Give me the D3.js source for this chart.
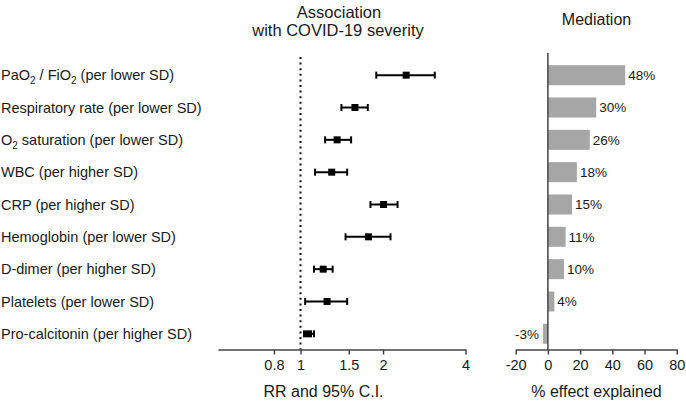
<!DOCTYPE html>
<html>
<head>
<meta charset="utf-8">
<script src="https://cdn.jsdelivr.net/npm/d3@7"></script>
<style>
  body { margin: 0; background: #fff; }
  text { font-family: "Liberation Sans", Arial, sans-serif; fill: #1a1a1a; }
</style>
</head>
<body>
<svg id="chartSVG" width="686" height="407"></svg>
<script>
// row labels, top to bottom (sub = subscript pieces)
const rowLabels = [
  [["PaO", ""], ["2", "sub"], [" / FiO", ""], ["2", "sub"], [" (per lower SD)", ""]],
  [["Respiratory rate (per lower SD)", ""]],
  [["O", ""], ["2", "sub"], [" saturation (per lower SD)", ""]],
  [["WBC (per higher SD)", ""]],
  [["CRP (per higher SD)", ""]],
  [["Hemoglobin (per lower SD)", ""]],
  [["D-dimer (per higher SD)", ""]],
  [["Platelets (per lower SD)", ""]],
  [["Pro-calcitonin (per higher SD)", ""]]
];
const rowKeys = d3.range(rowLabels.length);

// relative risk and 95% CI
const rr      = [2.43, 1.58, 1.36, 1.30, 2.01, 1.77, 1.21, 1.25, 1.07];
const rrLower = [1.89, 1.41, 1.23, 1.13, 1.80, 1.46, 1.12, 1.04, 1.03];
const rrUpper = [3.09, 1.76, 1.53, 1.48, 2.26, 2.13, 1.31, 1.48, 1.12];
const rrTicks = [0.8, 1, 1.5, 2, 4];

// mediation, % effect explained
const mediation = [48, 30, 26, 18, 15, 11, 10, 4, -3];
const mediationTicks = [-20, 0, 20, 40, 60, 80];

const svg = d3.select("#chartSVG");

// scales
const yRow = d3.scaleBand().domain(rowKeys).range([59, 350]);
const yBar = d3.scaleBand().domain(rowKeys).range([59, 350])
  .paddingInner(0.38).paddingOuter(0.19);
const xRR = d3.scaleLog().domain([0.5, 4]).range([218, 465.5]);
const xMed = d3.scaleLinear().domain([-20, 80]).range([515.7, 676.7]);
const axisY = 349.5;
const mid = i => yRow(i) + yRow.bandwidth() / 2;

// row labels, subscripts drop 4px and the next piece comes back up
const lab = svg.append("g").selectAll("text").data(rowLabels).join("text")
  .attr("x", 1).attr("y", (d, i) => mid(i)).attr("dy", "0.35em")
  .attr("font-size", 14.5);
lab.each(function (parts) {
  const t = d3.select(this);
  let prevSub = false;
  parts.forEach(p => {
    const s = t.append("tspan").text(p[0]);
    if (p[1] === "sub") s.attr("font-size", 10).attr("dy", 4);
    else if (prevSub) s.attr("dy", -4);
    prevSub = p[1] === "sub";
  });
});

// ---- forest plot ----
const forest = svg.append("g");
forest.append("line")
  .attr("x1", xRR(1)).attr("x2", xRR(1))
  .attr("y1", 57).attr("y2", axisY)
  .attr("stroke", "#111").attr("stroke-width", 2)
  .attr("stroke-dasharray", "2,3.6");

const rows = forest.selectAll("g.row").data(rowKeys).join("g").attr("class", "row");
rows.append("line")
  .attr("x1", i => xRR(rrLower[i])).attr("x2", i => xRR(rrUpper[i]))
  .attr("y1", mid).attr("y2", mid)
  .attr("stroke", "#000").attr("stroke-width", 2);
[rrLower, rrUpper].forEach(arr => {
  rows.append("line")
    .attr("x1", i => xRR(arr[i])).attr("x2", i => xRR(arr[i]))
    .attr("y1", i => mid(i) - 3.5).attr("y2", i => mid(i) + 3.5)
    .attr("stroke", "#000").attr("stroke-width", 2);
});
rows.append("rect")
  .attr("x", i => xRR(rr[i]) - 3.5).attr("y", i => mid(i) - 3.5)
  .attr("width", 7).attr("height", 7).attr("fill", "#000");

const rrAxis = forest.append("g")
  .attr("transform", `translate(0,${axisY})`)
  .call(d3.axisBottom(xRR).tickValues(rrTicks).tickFormat(d => String(d))
    .tickSize(5).tickSizeOuter(0).tickPadding(5));
rrAxis.select(".domain").attr("stroke", "#444").attr("stroke-width", 1.5);
rrAxis.selectAll(".tick line").attr("stroke", "#444").attr("stroke-width", 1.5);
rrAxis.selectAll(".tick text").attr("font-size", 14.5).attr("font-family", "Liberation Sans").attr("fill", "#1a1a1a");

forest.append("text").attr("x", 339).attr("y", 18).attr("text-anchor", "middle")
  .attr("font-size", 16.5).text("Association");
forest.append("text").attr("x", 338).attr("y", 36).attr("text-anchor", "middle")
  .attr("font-size", 16.5).text("with COVID-19 severity");
forest.append("text").attr("x", 323.5).attr("y", 397).attr("text-anchor", "middle")
  .attr("font-size", 16).text("RR and 95% C.I.");

// ---- mediation bars ----
const med = svg.append("g");
med.selectAll("rect").data(rowKeys).join("rect")
  .attr("x", i => xMed(Math.min(0, mediation[i])))
  .attr("width", i => Math.abs(xMed(mediation[i]) - xMed(0)))
  .attr("y", i => yBar(i)).attr("height", yBar.bandwidth())
  .attr("fill", "#a6a6a6");
med.selectAll("text.val").data(rowKeys).join("text").attr("class", "val")
  .attr("x", i => mediation[i] >= 0 ? xMed(mediation[i]) + 3 : xMed(mediation[i]) - 4)
  .attr("y", i => mid(i)).attr("dy", "0.35em")
  .attr("text-anchor", i => mediation[i] >= 0 ? "start" : "end")
  .attr("font-size", 13.5).text(i => mediation[i] + "%");

med.append("line")
  .attr("x1", xMed(0)).attr("x2", xMed(0))
  .attr("y1", 53).attr("y2", axisY)
  .attr("stroke", "#444").attr("stroke-width", 1.5);

const medAxis = med.append("g")
  .attr("transform", `translate(0,${axisY})`)
  .call(d3.axisBottom(xMed).tickValues(mediationTicks).tickFormat(d => String(d))
    .tickSize(5).tickSizeOuter(0).tickPadding(5));
medAxis.select(".domain").attr("stroke", "#444").attr("stroke-width", 1.5);
medAxis.selectAll(".tick line").attr("stroke", "#444").attr("stroke-width", 1.5);
medAxis.selectAll(".tick text").attr("font-size", 14.5).attr("font-family", "Liberation Sans").attr("fill", "#1a1a1a");

med.append("text").attr("x", 596.5).attr("y", 25).attr("text-anchor", "middle")
  .attr("font-size", 16).text("Mediation");
med.append("text").attr("x", 596.5).attr("y", 397).attr("text-anchor", "middle")
  .attr("font-size", 16).text("% effect explained");
</script>
</body>
</html>
